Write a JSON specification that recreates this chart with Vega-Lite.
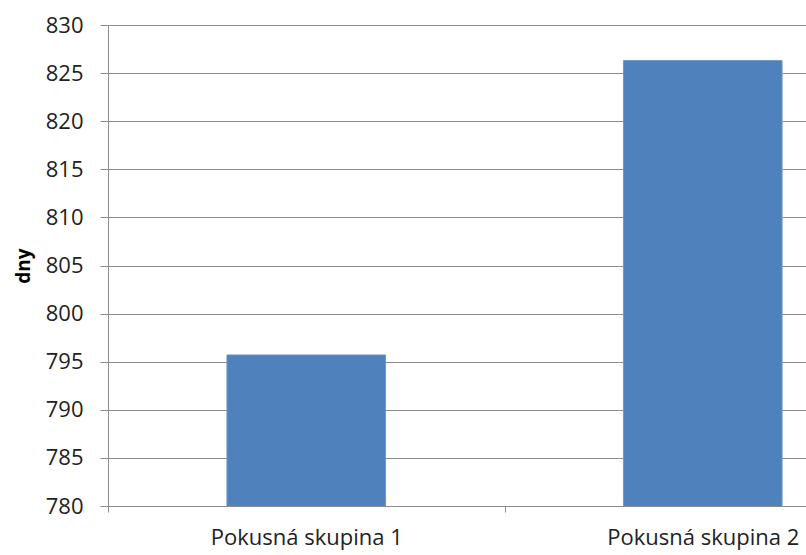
{
  "$schema": "https://vega.github.io/schema/vega-lite/v6.json",
  "autosize": {"type": "none"},
  "width": 698,
  "height": 481,
  "padding": {"left": 108, "top": 25, "right": 0, "bottom": 49},
  "background": "white",
  "config": {"view": {"stroke": null}, "font": "Open Sans"},
  "data": {"values": [
    {"skupina": "Pokusná skupina 1", "dny": 795.7},
    {"skupina": "Pokusná skupina 2", "dny": 826.3}
  ]},
  "mark": {"type": "bar", "color": "#4F81BD", "stroke": "#6C98CC", "strokeWidth": 1, "clip": true},
  "encoding": {
    "x": {
      "field": "skupina", "type": "nominal", "sort": null,
      "scale": {"range": [0, 793], "paddingInner": 0.6, "paddingOuter": 0.3},
      "axis": {
        "title": null, "labelAngle": 0, "grid": false,
        "domainColor": "#8C8C8C", "tickColor": "#8C8C8C", "tickSize": 6,
        "tickOffset": -198, "labelOffset": 198, "labelLimit": 400,
        "labelFontSize": 22, "labelColor": "#222222", "labelPadding": 15,
        "labelFont": "Open Sans"
      }
    },
    "y": {
      "field": "dny", "type": "quantitative",
      "scale": {"domain": [780, 830], "zero": false, "nice": false},
      "axis": {
        "title": "dny", "titleFont": "Open Sans", "titleFontSize": 19, "titleFontWeight": "bold", "titleColor": "#000000",
        "titlePadding": 12,
        "values": [780, 785, 790, 795, 800, 805, 810, 815, 820, 825, 830],
        "gridColor": "#8C8C8C", "gridWidth": 1,
        "domainColor": "#8C8C8C", "tickColor": "#8C8C8C", "tickSize": 8,
        "labelFont": "Open Sans",
        "labelFontSize": 22, "labelColor": "#222222", "labelPadding": 17
      }
    }
  }
}
